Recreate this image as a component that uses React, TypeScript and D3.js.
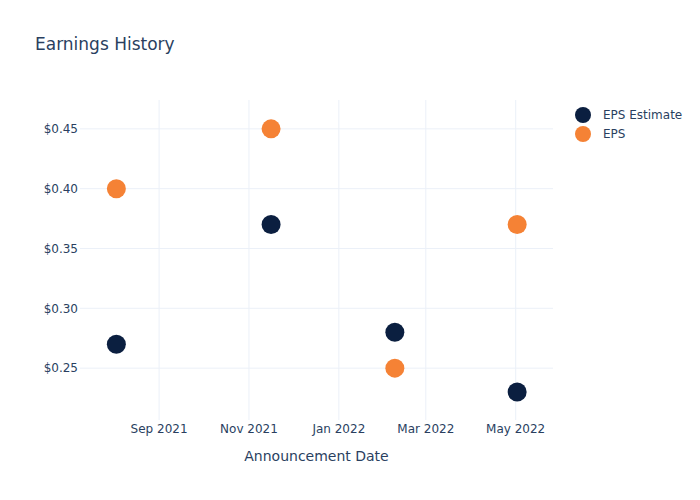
import React from "react";
import * as d3 from "d3";

const dates = ["2021-08-03", "2021-11-16", "2022-02-08", "2022-05-02"];
const epsEstimate = [0.27, 0.37, 0.28, 0.23];
const epsActual = [0.4, 0.45, 0.25, 0.37];
const yTicks = [0.25, 0.3, 0.35, 0.4, 0.45];
const xTicks = ["2021-09-01", "2021-11-01", "2022-01-01", "2022-03-01", "2022-05-01"];
const seriesNames = ["EPS Estimate", "EPS"];

const W = 700, H = 500;
const M = { l: 80, r: 147, t: 100, b: 80 };
const FONT = "'DejaVu Sans', Verdana, sans-serif";
const TEXT = "#2a3f5f";
const GRID = "#EBF0F8";
const NAVY = "#0B1F40";
const ORANGE = "#F58235";

export default function App() {
  const parse = d3.utcParse("%Y-%m-%d");
  const x = d3.scaleUtc()
    .domain([parse("2021-07-10")!, parse("2022-05-27")!])
    .range([M.l + 1, W - M.r + 1]);
  const y = d3.scaleLinear().domain([0.2058, 0.4733]).range([H - M.b + 1, M.t + 1]);
  const fmtX = d3.utcFormat("%b %Y");
  const colors = [NAVY, ORANGE];
  const series = [epsEstimate, epsActual];
  return (
    <svg width={W} height={H} style={{ position: "absolute", left: 0, top: 0, fontFamily: FONT }}>
      <rect width={W} height={H} fill="#fff" />
      {xTicks.map((t) => (
        <line key={t} x1={x(parse(t)!)} x2={x(parse(t)!)} y1={M.t} y2={H - M.b} stroke={GRID} strokeWidth={1} />
      ))}
      {yTicks.map((t) => (
        <line key={t} x1={M.l} x2={W - M.r} y1={y(t)} y2={y(t)} stroke={GRID} strokeWidth={1} />
      ))}
      {xTicks.map((t) => (
        <text key={t} x={x(parse(t)!)} y={429} dy="0.35em" fontSize={12} fill={TEXT} textAnchor="middle">
          {fmtX(parse(t)!)}
        </text>
      ))}
      {yTicks.map((t) => (
        <text key={t} x={M.l - 2} y={y(t)} fontSize={12} fill={TEXT} textAnchor="end" dy="0.35em">
          {"$" + d3.format(".2f")(t)}
        </text>
      ))}
      {series.map((s, si) =>
        s.map((v, i) => (
          <circle key={si + "-" + i} cx={x(parse(dates[i])!)} cy={y(v)} r={9.5} fill={colors[si]} />
        ))
      )}
      <text x={35} y={50} fontSize={17} fill={TEXT}>Earnings History</text>
      <text x={(M.l + W - M.r) / 2} y={461} fontSize={14} fill={TEXT} textAnchor="middle">Announcement Date</text>
      {seriesNames.map((n, i) => (
        <g key={n} transform={`translate(583, ${115 + i * 19})`}>
          <circle r={8} fill={colors[i]} />
          <text x={20} y={0} dy="0.35em" fontSize={12} fill={TEXT}>{n}</text>
        </g>
      ))}
    </svg>
  );
}
